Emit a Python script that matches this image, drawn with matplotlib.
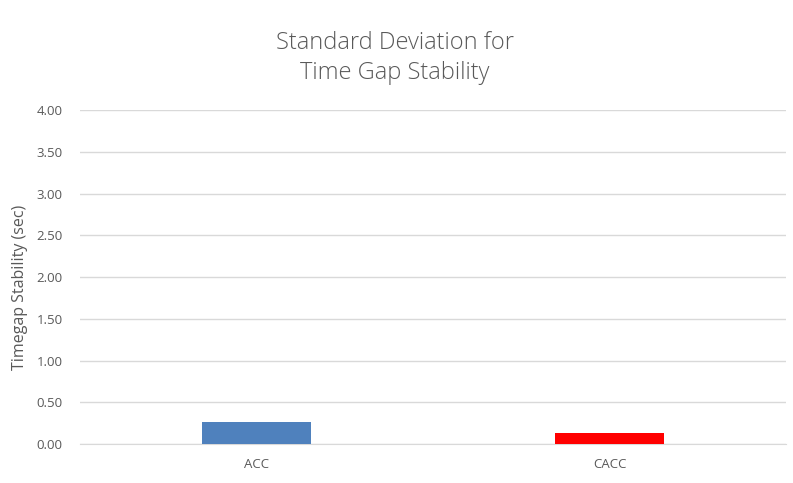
import numpy as np
import matplotlib.pyplot as plt

categories = ["ACC", "CACC"]
values = [0.26, 0.13]
colors = ["#4f81bd", "#ff0000"]
yticks = [0.0, 0.5, 1.0, 1.5, 2.0, 2.5, 3.0, 3.5, 4.0]

plt.rcParams['font.family'] = ['Open Sans', 'DejaVu Sans']

fig = plt.figure(figsize=(7.93, 4.83), dpi=100)
ax = fig.add_axes([0.1015, 0.0807, 0.8895, 0.6913])

x = np.arange(len(categories))
ax.bar(x, values, width=0.31, color=colors, zorder=3)

ax.set_xlim(-0.5, 1.5)
ax.set_ylim(0, 4.0)
ax.set_yticks(yticks)
ax.set_yticklabels([f"{v:.2f}" for v in yticks])
ax.set_xticks(x)
ax.set_xticklabels(categories)
ax.tick_params(axis='both', length=0, labelsize=9.5, colors='#595959')
ax.tick_params(axis='y', pad=13)
ax.tick_params(axis='x', pad=10)

ax.grid(axis='y', color='#d9d9d9', linewidth=1, zorder=0)
for s in ['top', 'right', 'left']:
    ax.spines[s].set_visible(False)
ax.spines['bottom'].set_color('#d9d9d9')

ax.set_ylabel("Timegap Stability (sec)", fontsize=11.5, color='#595959')
ax.yaxis.set_label_coords(-0.075, 0.47)

fig.text(0.498, 0.88, "Standard Deviation for\nTime Gap Stability", ha='center', va='center',
         fontsize=17, color='#595959', linespacing=1.35, fontweight='light')

plt.savefig("out.png", dpi=100)
